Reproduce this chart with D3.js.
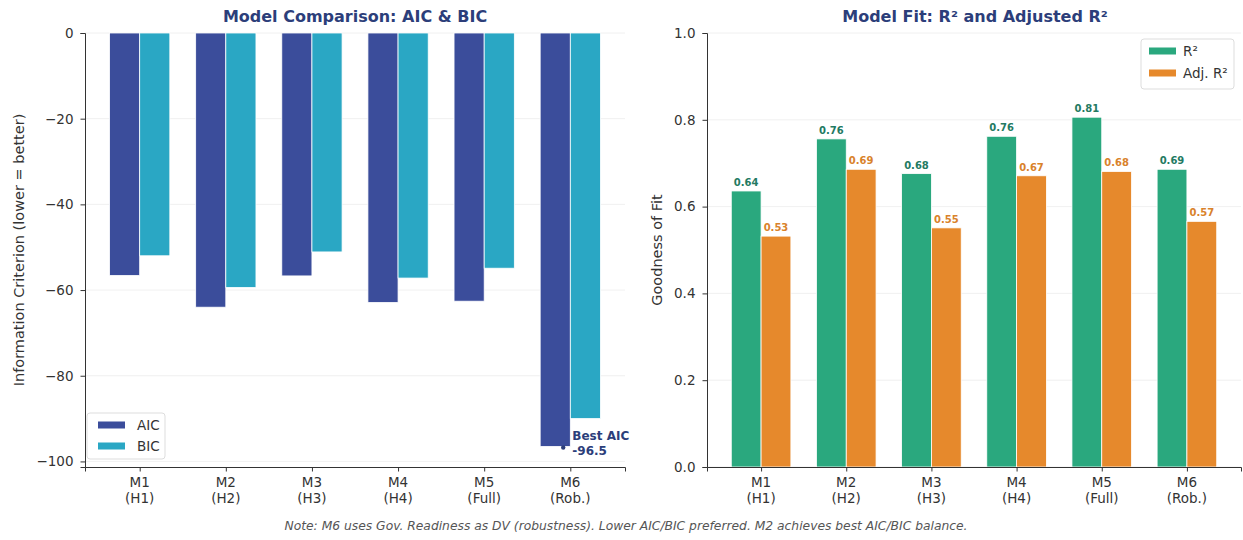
<!DOCTYPE html>
<html><head><meta charset="utf-8">
<script src="https://cdn.jsdelivr.net/npm/d3@7"></script>
<style>
body{margin:0;background:#fff;}
svg{display:block;font-family:"DejaVu Sans",sans-serif;}
</style></head>
<body><svg id="c" width="1243" height="540"></svg>
<script>
const models = ["M1\n(H1)","M2\n(H2)","M3\n(H3)","M4\n(H4)","M5\n(Full)","M6\n(Rob.)"];
const aic = [-56.6,-64.0,-56.7,-62.9,-62.6,-96.5];
const bic = [-52.0,-59.4,-51.1,-57.2,-54.9,-90.0];
const r2 = [0.636,0.756,0.676,0.762,0.806,0.686];
const adjR2 = [0.532,0.686,0.551,0.671,0.681,0.566];
const icTicks = [0,-20,-40,-60,-80,-100];
const fitTicks = [0,0.2,0.4,0.6,0.8,1.0];
const noteText = "Note: M6 uses Gov. Readiness as DV (robustness). Lower AIC/BIC preferred. M2 achieves best AIC/BIC balance.";

const C = {aic:"#3b4d9b", bic:"#2aa7c4", r2:"#2aa87e", adj:"#e6892c", title:"#2c3e7a", axis:"#333"};
const FS = 13.5;
const svg = d3.select("#c");
const bw = 0.35;

function styleYAxis(ax){
  ax.select(".domain").attr("stroke",C.axis);
  ax.selectAll(".tick line").attr("stroke",C.axis);
  ax.selectAll(".tick text").attr("font-size",FS).attr("fill","#333").attr("font-family","DejaVu Sans");
}
function xAxisDraw(g, x, yPix) {
  const ax = g.append("g").attr("transform",`translate(0,${yPix})`)
    .call(d3.axisBottom(x).tickValues(d3.range(models.length)).tickSize(4.5).tickFormat(""));
  ax.select(".domain").attr("stroke",C.axis).attr("stroke-width",1);
  ax.selectAll(".tick line").attr("stroke",C.axis);
  models.forEach((m,i)=>{
    const t = g.append("text").attr("x",x(i)).attr("y",yPix+20).attr("text-anchor","middle")
      .attr("font-size",FS).attr("fill","#333");
    m.split("\n").forEach((s,k)=>t.append("tspan").attr("x",x(i)).attr("dy",k?16:0).text(s));
  });
}

// ---------- Left panel ----------
{
  const g = svg.append("g");
  const x = d3.scaleLinear().domain([-0.635, models.length-1+0.635]).range([85,625]);
  const y = d3.scaleLinear().domain([-101.3,0]).range([467,33]);
  g.selectAll(".gl").data(icTicks).enter().append("line")
    .attr("x1",85).attr("x2",625).attr("y1",d=>y(d)).attr("y2",d=>y(d))
    .attr("stroke","#ececec").attr("stroke-width",0.8);
  g.selectAll(".a").data(aic).enter().append("rect")
    .attr("x",(d,i)=>x(i-bw)).attr("width",x(bw)-x(0))
    .attr("y",y(0)).attr("height",d=>y(d)-y(0))
    .attr("fill",C.aic).attr("stroke","#fff").attr("stroke-width",0.8);
  g.selectAll(".b").data(bic).enter().append("rect")
    .attr("x",(d,i)=>x(i)).attr("width",x(bw)-x(0))
    .attr("y",y(0)).attr("height",d=>y(d)-y(0))
    .attr("fill",C.bic).attr("stroke","#fff").attr("stroke-width",0.8);
  const ya = g.append("g").attr("transform","translate(85,0)")
    .call(d3.axisLeft(y).tickValues(icTicks).tickSize(4.5).tickPadding(7)
      .tickFormat(d=>d===0?"0":"\u2212"+Math.abs(d)));
  styleYAxis(ya);
  xAxisDraw(g, x, 467);
  // annotation
  const bi = aic.indexOf(d3.min(aic));
  g.append("circle").attr("cx",x(bi-bw/2)+8).attr("cy",y(aic[bi])+1).attr("r",2.2).attr("fill",C.title);
  g.append("text").attr("x",x(bi)+2).attr("y",y(aic[bi])-6).attr("font-size",12).attr("font-weight","bold")
    .attr("fill",C.title).text("Best AIC");
  g.append("text").attr("x",x(bi)+2).attr("y",y(aic[bi])+9).attr("font-size",12).attr("font-weight","bold")
    .attr("fill",C.title).text(String(aic[bi]));
  g.append("text").attr("x",355).attr("y",22).attr("text-anchor","middle").attr("font-size",16)
    .attr("font-weight","bold").attr("fill",C.title).text("Model Comparison: AIC & BIC");
  g.append("text").attr("transform","translate(24,250) rotate(-90)").attr("text-anchor","middle")
    .attr("font-size",14.5).attr("fill","#333").text("Information Criterion (lower = better)");
  const lg = g.append("g");
  lg.append("rect").attr("x",87).attr("y",413).attr("width",78).attr("height",46).attr("rx",3)
    .attr("fill","#fff").attr("fill-opacity",0.85).attr("stroke","#ddd");
  [["AIC",C.aic],["BIC",C.bic]].forEach((e,k)=>{
    lg.append("rect").attr("x",98).attr("y",421.5+k*21).attr("width",27).attr("height",7).attr("fill",e[1]);
    lg.append("text").attr("x",137).attr("y",430+k*21).attr("font-size",FS).attr("fill","#333").text(e[0]);
  });
}

// ---------- Right panel ----------
{
  const g = svg.append("g");
  const x = d3.scaleLinear().domain([-0.635, models.length-1+0.635]).range([707,1241]);
  const y = d3.scaleLinear().domain([0,1]).range([467,33]);
  g.selectAll(".gl").data(fitTicks).enter().append("line")
    .attr("x1",707).attr("x2",1241).attr("y1",d=>y(d)).attr("y2",d=>y(d))
    .attr("stroke","#ececec").attr("stroke-width",0.8);
  g.selectAll(".a").data(r2).enter().append("rect")
    .attr("x",(d,i)=>x(i-bw)).attr("width",x(bw)-x(0))
    .attr("y",d=>y(d)).attr("height",d=>y(0)-y(d))
    .attr("fill",C.r2).attr("stroke","#fff").attr("stroke-width",0.8);
  g.selectAll(".b").data(adjR2).enter().append("rect")
    .attr("x",(d,i)=>x(i)).attr("width",x(bw)-x(0))
    .attr("y",d=>y(d)).attr("height",d=>y(0)-y(d))
    .attr("fill",C.adj).attr("stroke","#fff").attr("stroke-width",0.8);
  const f = d3.format(".2f");
  g.selectAll(".la").data(r2).enter().append("text")
    .attr("x",(d,i)=>x(i-bw/2)).attr("y",d=>y(d)-5).attr("text-anchor","middle")
    .attr("font-size",10).attr("font-weight","bold").attr("fill","#237a62").text(d=>f(d));
  g.selectAll(".lb").data(adjR2).enter().append("text")
    .attr("x",(d,i)=>x(i+bw/2)).attr("y",d=>y(d)-5).attr("text-anchor","middle")
    .attr("font-size",10).attr("font-weight","bold").attr("fill","#d9822b").text(d=>f(d));
  const ya = g.append("g").attr("transform","translate(707,0)")
    .call(d3.axisLeft(y).tickValues(fitTicks).tickSize(4.5).tickPadding(7).tickFormat(d3.format(".1f")));
  styleYAxis(ya);
  xAxisDraw(g, x, 467);
  g.append("text").attr("x",975).attr("y",22).attr("text-anchor","middle").attr("font-size",16)
    .attr("font-weight","bold").attr("fill",C.title).text("Model Fit: R\u00b2 and Adjusted R\u00b2");
  g.append("text").attr("transform","translate(662,250) rotate(-90)").attr("text-anchor","middle")
    .attr("font-size",14.5).attr("fill","#333").text("Goodness of Fit");
  const lg = g.append("g");
  lg.append("rect").attr("x",1141).attr("y",39).attr("width",93).attr("height",50).attr("rx",3)
    .attr("fill","#fff").attr("fill-opacity",0.85).attr("stroke","#ddd");
  [["R\u00b2",C.r2],["Adj. R\u00b2",C.adj]].forEach((e,k)=>{
    lg.append("rect").attr("x",1149).attr("y",47.5+k*22).attr("width",27).attr("height",7).attr("fill",e[1]);
    lg.append("text").attr("x",1183).attr("y",56+k*22).attr("font-size",FS).attr("fill","#333").text(e[0]);
  });
}

svg.append("text").attr("x",626).attr("y",530).attr("text-anchor","middle").attr("font-size",12.3)
  .attr("font-style","italic").attr("fill","#555").text(noteText);
</script></body></html>
